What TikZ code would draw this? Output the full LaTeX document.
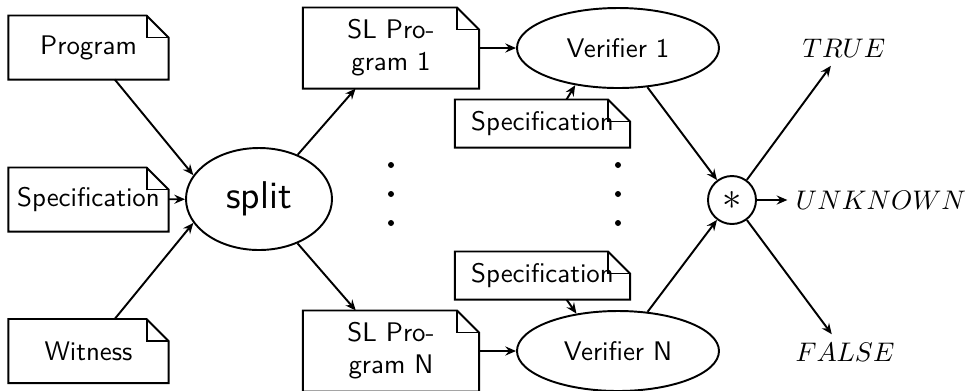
\documentclass[tikz,border=0pt]{standalone}
\usetikzlibrary{shapes.geometric,arrows.meta}
\def\pxu{0.372}
\tikzset{
  docbox/.style={rectangle, inner sep=0pt, align=center, font=\sffamily},
  ellnode/.style={ellipse, draw, line width=0.72pt, inner sep=0pt, font=\sffamily},
  outline/.style={line width=0.72pt},
  conn/.style={-{Stealth[length=4pt,width=3.4pt,inset=1.4pt]}, line width=0.72pt},
  dotmark/.style={circle, fill, inner sep=0pt, minimum size={6*\pxu pt}},
  outcome/.style={inner sep=3pt}
}
\begin{document}
\begin{tikzpicture}[x=\pxu pt, y=-\pxu pt]
\useasboundingbox (0,0) rectangle (969,390);

% input documents
\node[docbox, minimum width={159*\pxu pt}, minimum height={63*\pxu pt}] (prog) at (88.5,47.5) {Program};
\node[docbox, minimum width={159*\pxu pt}, minimum height={63*\pxu pt}] (spec) at (88.5,199.5) {Specification};
\node[docbox, minimum width={159*\pxu pt}, minimum height={63*\pxu pt}] (wit) at (88.5,351) {Witness};

% splitter
\node[ellnode, minimum width={146*\pxu pt}, minimum height={102*\pxu pt}, font=\sffamily\Large] (split) at (259,199) {split};

% generated programs
\node[docbox, minimum width={175*\pxu pt}, minimum height={80*\pxu pt}] (sl1) at (391,48) {SL Pro-\\gram 1};
\node[docbox, minimum width={175*\pxu pt}, minimum height={80*\pxu pt}] (slN) at (391,351) {SL Pro-\\gram N};

% specifications handed to the verifiers
\node[docbox, minimum width={174*\pxu pt}, minimum height={47*\pxu pt}] (spec1) at (542.5,123.5) {Specification};
\node[docbox, minimum width={174*\pxu pt}, minimum height={47*\pxu pt}] (specN) at (542.5,275.5) {Specification};

% verifiers
\node[ellnode, minimum width={202*\pxu pt}, minimum height={80*\pxu pt}] (ver1) at (618,48) {Verifier 1};
\node[ellnode, minimum width={202*\pxu pt}, minimum height={80*\pxu pt}] (verN) at (618,351) {Verifier N};

% combining operator and verdicts
\node[circle, draw, line width=0.72pt, inner sep=0pt, minimum size={48*\pxu pt}, font=\Large] (star) at (732,200) {$*$};
\node[outcome] (true) at (844,48) {$TRUE$};
\node[outcome] (unk) at (881,200) {$UNKNOWN$};
\node[outcome] (false) at (845,352) {$FALSE$};

% ellipsis dots
\node[dotmark] (da1) at (391,165) {};
\node[dotmark] (da2) at (391,194) {};
\node[dotmark] (da3) at (391,223) {};
\node[dotmark] (db1) at (618,165) {};
\node[dotmark] (db2) at (618,194) {};
\node[dotmark] (db3) at (618,223) {};

% document outlines with folded corner
\foreach \n in {prog,spec,wit,sl1,slN,spec1,specN}{
  \draw[outline] (\n.south west) -- (\n.south east) -- ([yshift={-22*\pxu pt}]\n.north east)
    -- ([xshift={-22*\pxu pt}]\n.north east) -- (\n.north west) -- cycle;
  \draw[outline] ([xshift={-22*\pxu pt}]\n.north east) |- ([yshift={-22*\pxu pt}]\n.north east);
}

% connectors
\draw[conn] (prog) -- (split.160);
\draw[conn] (spec) -- (split);
\draw[conn] (wit) -- (split.200);
\draw[conn] (split) -- (sl1);
\draw[conn] (split) -- (slN);
\draw[conn] (sl1) -- (ver1);
\draw[conn] (slN) -- (verN);
\draw[conn] (spec1.45) -- (ver1.221);
\draw[conn] (specN.-45) -- (verN.138);
\draw[conn] (ver1) -- (star);
\draw[conn] (verN) -- (star);
\draw[conn] (star) -- (true);
\draw[conn] (star) -- (unk);
\draw[conn] (star) -- (false);
\end{tikzpicture}
\end{document}
